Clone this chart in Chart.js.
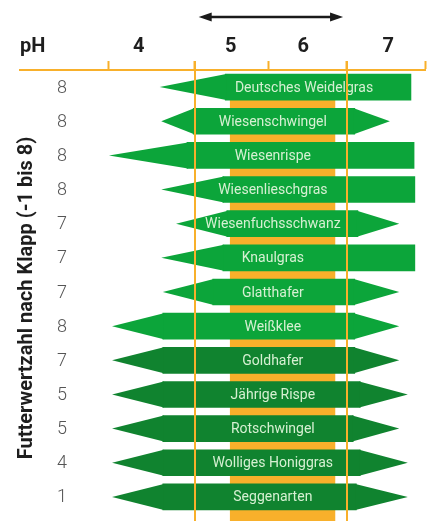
<!DOCTYPE html>
<html>
<head>
<meta charset="utf-8">
<script src="https://cdn.jsdelivr.net/npm/chart.js@4.4.1/dist/chart.umd.min.js"></script>
<style>
  html, body { margin: 0; padding: 0; background: #fff; }
  #wrap { width: 433px; height: 521px; }
</style>
</head>
<body>
<div id="wrap"><canvas id="chart"></canvas></div>
<script>
// species and Futterwertzahl (Klapp)
const species = ['Deutsches Weidelgras', 'Wiesenschwingel', 'Wiesenrispe', 'Wiesenlieschgras',
  'Wiesenfuchsschwanz', 'Knaulgras', 'Glatthafer', 'Weißklee', 'Goldhafer', 'Jährige Rispe',
  'Rotschwingel', 'Wolliges Honiggras', 'Seggenarten'];
const feedValue = [8, 8, 8, 8, 7, 7, 7, 8, 7, 5, 5, 4, 1];
// pH range: tip of the taper, start of full range, end of full range, tip on the right
const tipLeft    = [4.10, 4.12, 3.45, 4.12, 4.31, 4.12, 4.14, 3.49, 3.49, 3.49, 3.49, 3.49, 3.49];
const rangeLeft  = [4.94, 4.53, 4.45, 4.91, 4.96, 4.91, 4.78, 4.14, 4.14, 4.14, 4.14, 4.14, 4.14];
const rangeRight = [7.32, 6.60, 7.36, 7.37, 6.64, 7.37, 6.60, 6.60, 6.60, 6.67, 6.58, 6.67, 6.62];
const tipRight   = [7.32, 7.05, 7.36, 7.37, 7.17, 7.37, 7.17, 7.17, 7.17, 7.28, 7.17, 7.28, 7.28];
const speciesGroup = [0, 0, 0, 0, 0, 0, 0, 0, 1, 1, 1, 1, 1];

// pH axis
const phTicks = [3.45, 4.55, 5.5, 6.5, 7.5];
const phLabels = ['4', '5', '6', '7'];
const phLabelAt = [3.83, 5.01, 5.94, 7.03];
const optimumBand = [5.0, 6.35];
const toleranceLines = [4.55, 6.5];
const arrowRange = [4.6, 6.45];

const GREEN = ['#0ca53a', '#10832f'];
const ORANGE = '#f8b02b';
const BAR_H = 26;

const shapes = {
  id: 'shapes',
  beforeDatasetsDraw(chart) {
    const { ctx, scales: { x, y } } = chart;
    const top = y.getPixelForValue(0) - BAR_H / 2 + 2;
    const x0 = x.getPixelForValue(optimumBand[0]);
    const x1 = x.getPixelForValue(optimumBand[1]);
    ctx.save();
    ctx.fillStyle = ORANGE;
    ctx.fillRect(x0, top, x1 - x0, chart.height - top);
    ctx.restore();
  },
  afterDatasetsDraw(chart) {
    const { ctx, scales: { x, y } } = chart;
    ctx.save();
    species.forEach((name, i) => {
      const yc = y.getPixelForValue(i);
      const h = BAR_H / 2;
      ctx.fillStyle = GREEN[speciesGroup[i]];
      const l0 = x.getPixelForValue(tipLeft[i]);
      const l1 = x.getPixelForValue(rangeLeft[i]);
      ctx.beginPath();
      ctx.moveTo(l1 + 1, yc - h);
      ctx.lineTo(l0, yc);
      ctx.lineTo(l1 + 1, yc + h);
      ctx.closePath();
      ctx.fill();
      if (tipRight[i] > rangeRight[i]) {
        const r0 = x.getPixelForValue(rangeRight[i]);
        const r1 = x.getPixelForValue(tipRight[i]);
        ctx.beginPath();
        ctx.moveTo(r0 - 1, yc - h);
        ctx.lineTo(r1, yc);
        ctx.lineTo(r0 - 1, yc + h);
        ctx.closePath();
        ctx.fill();
      }
      // species name inside the bar
      const cx = x.getPixelForValue(i === 0 ? 5.95 : 5.55);
      ctx.fillStyle = '#d6f0d2';
      ctx.font = '14px Roboto, sans-serif';
      ctx.textAlign = 'center';
      ctx.textBaseline = 'middle';
      ctx.fillText(name, cx, yc + 1);
    });
    ctx.restore();
  },
  afterDraw(chart) {
    const { ctx, chartArea, scales: { x, y } } = chart;
    ctx.save();
    // tolerance lines on top of the bars
    ctx.strokeStyle = ORANGE;
    ctx.lineWidth = 2;
    toleranceLines.forEach(v => {
      const px = Math.round(x.getPixelForValue(v));
      ctx.beginPath();
      ctx.moveTo(px, chartArea.top - 9);
      ctx.lineTo(px, chart.height);
      ctx.stroke();
    });

    // header labels
    ctx.fillStyle = '#1e1e1e';
    ctx.font = 'bold 20px Roboto, sans-serif';
    ctx.textBaseline = 'alphabetic';
    ctx.textAlign = 'left';
    ctx.fillText('pH', chartArea.left, 52);
    ctx.textAlign = 'center';
    phLabels.forEach((t, i) => ctx.fillText(t, x.getPixelForValue(phLabelAt[i]), 52));

    // feed values
    ctx.fillStyle = '#555';
    ctx.font = '300 18px Roboto, sans-serif';
    ctx.textBaseline = 'middle';
    feedValue.forEach((v, i) => ctx.fillText(String(v), 62, y.getPixelForValue(i) + 1));

    // axis title
    ctx.save();
    ctx.translate(27, 298);
    ctx.rotate(-Math.PI / 2);
    ctx.fillStyle = '#1e1e1e';
    ctx.font = 'bold 20px Roboto, sans-serif';
    ctx.textAlign = 'center';
    ctx.textBaseline = 'middle';
    ctx.fillText('Futterwertzahl nach Klapp (-1 bis 8)', 0, 0);
    ctx.restore();

    // double arrow
    const a0 = x.getPixelForValue(arrowRange[0]);
    const a1 = x.getPixelForValue(arrowRange[1]);
    const ay = 17;
    ctx.strokeStyle = '#1a1a1a';
    ctx.fillStyle = '#1a1a1a';
    ctx.lineWidth = 2.5;
    ctx.beginPath();
    ctx.moveTo(a0 + 8, ay);
    ctx.lineTo(a1 - 8, ay);
    ctx.stroke();
    ctx.beginPath();
    ctx.moveTo(a0, ay); ctx.lineTo(a0 + 13, ay - 4.5); ctx.lineTo(a0 + 13, ay + 4.5);
    ctx.closePath(); ctx.fill();
    ctx.beginPath();
    ctx.moveTo(a1, ay); ctx.lineTo(a1 - 13, ay - 4.5); ctx.lineTo(a1 - 13, ay + 4.5);
    ctx.closePath(); ctx.fill();
    ctx.restore();
  }
};

new Chart(document.getElementById('chart'), {
  type: 'bar',
  data: {
    labels: species,
    datasets: [{
      data: rangeLeft.map((v, i) => [v, rangeRight[i]]),
      backgroundColor: speciesGroup.map(g => GREEN[g]),
      borderWidth: 0,
      borderSkipped: false,
      barThickness: BAR_H
    }]
  },
  options: {
    indexAxis: 'y',
    responsive: true,
    maintainAspectRatio: false,
    animation: false,
    events: [],
    layout: { padding: { left: 20, right: 8, top: 61, bottom: 7 } },
    plugins: { legend: { display: false }, tooltip: { enabled: false } },
    scales: {
      x: {
        position: 'top',
        min: 2.31,
        max: 7.5,
        afterBuildTicks: axis => { axis.ticks = phTicks.map(v => ({ value: v })); },
        ticks: { display: false },
        grid: { drawOnChartArea: false, drawTicks: true, tickLength: 9, tickColor: ORANGE, tickWidth: 2 },
        border: { color: ORANGE, width: 2 }
      },
      y: {
        display: false
      }
    }
  },
  plugins: [shapes]
});
</script>
</body>
</html>
